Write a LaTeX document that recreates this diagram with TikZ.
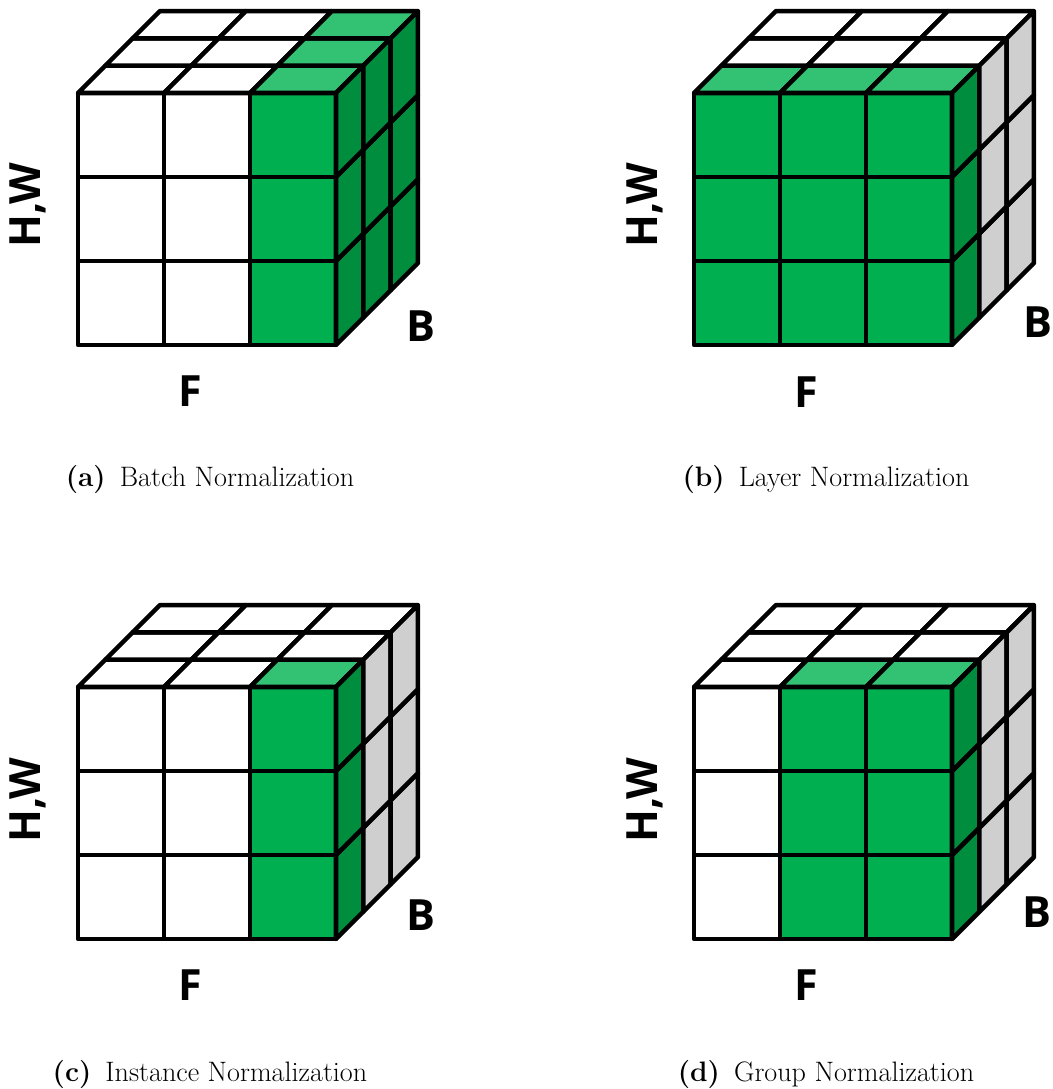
\documentclass[tikz,border=0pt]{standalone}
\usepackage{fontspec}
\usepackage{xcolor}
\usepackage{tikz}
\usetikzlibrary{positioning}
\newfontfamily\lblfont{Open Sans}
\definecolor{frontgreen}{HTML}{00B050}
\definecolor{topgreen}{HTML}{33C173}
\definecolor{sidegreen}{HTML}{008D3E}
\definecolor{sidegray}{HTML}{CFCFCF}

\tikzset{
  cell/.style={draw=black, line width=2.6pt, line join=round},
  axislabel/.style={font=\lblfont\bfseries\fontsize{24.5}{24.5}\selectfont, inner sep=0pt},
  subcap/.style={font=\fontsize{16}{19}\selectfont, inner sep=0pt},
}

% #1,#2: front bottom-left corner, #3: first green column, #4: last green layer
\newcommand{\normcube}[4]{%
  \foreach \i in {0,1,2}{
    \foreach \j in {0,1,2}{
      \ifnum\i<#3 \def\cellcol{white}\else\def\cellcol{frontgreen}\fi
      \filldraw[cell, fill=\cellcol] ({#1+\i*86},{#2-\j*84}) rectangle ++(86,-84);
    }
    \foreach \k in {0,1,2}{
      \def\cellcol{topgreen}
      \ifnum\i<#3 \def\cellcol{white}\fi
      \ifnum\k>#4 \def\cellcol{white}\fi
      \filldraw[cell, fill=\cellcol] ({#1+\i*86+\k*27.3},{#2-252-\k*27.3})
        -- ++(86,0) -- ++(27.3,-27.3) -- ++(-86,0) -- cycle;
    }
  }
  \foreach \j in {0,1,2}{
    \foreach \k in {0,1,2}{
      \ifnum\k>#4 \def\cellcol{sidegray}\else\def\cellcol{sidegreen}\fi
      \filldraw[cell, fill=\cellcol] ({#1+258+\k*27.3},{#2-\j*84-\k*27.3})
        -- ++(27.3,-27.3) -- ++(0,-84) -- ++(-27.3,27.3) -- cycle;
    }
  }
}

\begin{document}
\begin{tikzpicture}[x=0.02cm, y=-0.02cm]
  \useasboundingbox (0,0) rectangle (1052,1089);

  % (a) batch norm
  \normcube{78}{345}{2}{2}
  \node[axislabel, rotate=90] (hwa) at (28,205) {H,W};
  \node[axislabel] (fa) at (190,391) {F};
  \node[axislabel] (ba) at (421,326) {B};
  \node[subcap] (capa) at (210,479) {\textbf{(a)}\hspace{0.5em}Batch Normalization};

  % (b) layer norm
  \normcube{694}{345}{0}{0}
  \node[axislabel, rotate=90] (hwb) at (645,205) {H,W};
  \node[axislabel] (fb) at (806,392) {F};
  \node[axislabel] (bb) at (1038,322) {B};
  \node[subcap] (capb) at (826,479) {\textbf{(b)}\hspace{0.5em}Layer Normalization};

  % (c) instance norm
  \normcube{78}{939}{2}{0}
  \node[axislabel, rotate=90] (hwc) at (28,800) {H,W};
  \node[axislabel] (fc) at (190,985) {F};
  \node[axislabel] (bc) at (421,915) {B};
  \node[subcap] (capc) at (210,1074) {\textbf{(c)}\hspace{0.5em}Instance Normalization};

  % (d) group norm
  \normcube{694}{939}{1}{0}
  \node[axislabel, rotate=90] (hwd) at (645,800) {H,W};
  \node[axislabel] (fd) at (806,985) {F};
  \node[axislabel] (bd) at (1037,912) {B};
  \node[subcap] (capd) at (826,1074) {\textbf{(d)}\hspace{0.5em}Group Normalization};
\end{tikzpicture}
\end{document}
